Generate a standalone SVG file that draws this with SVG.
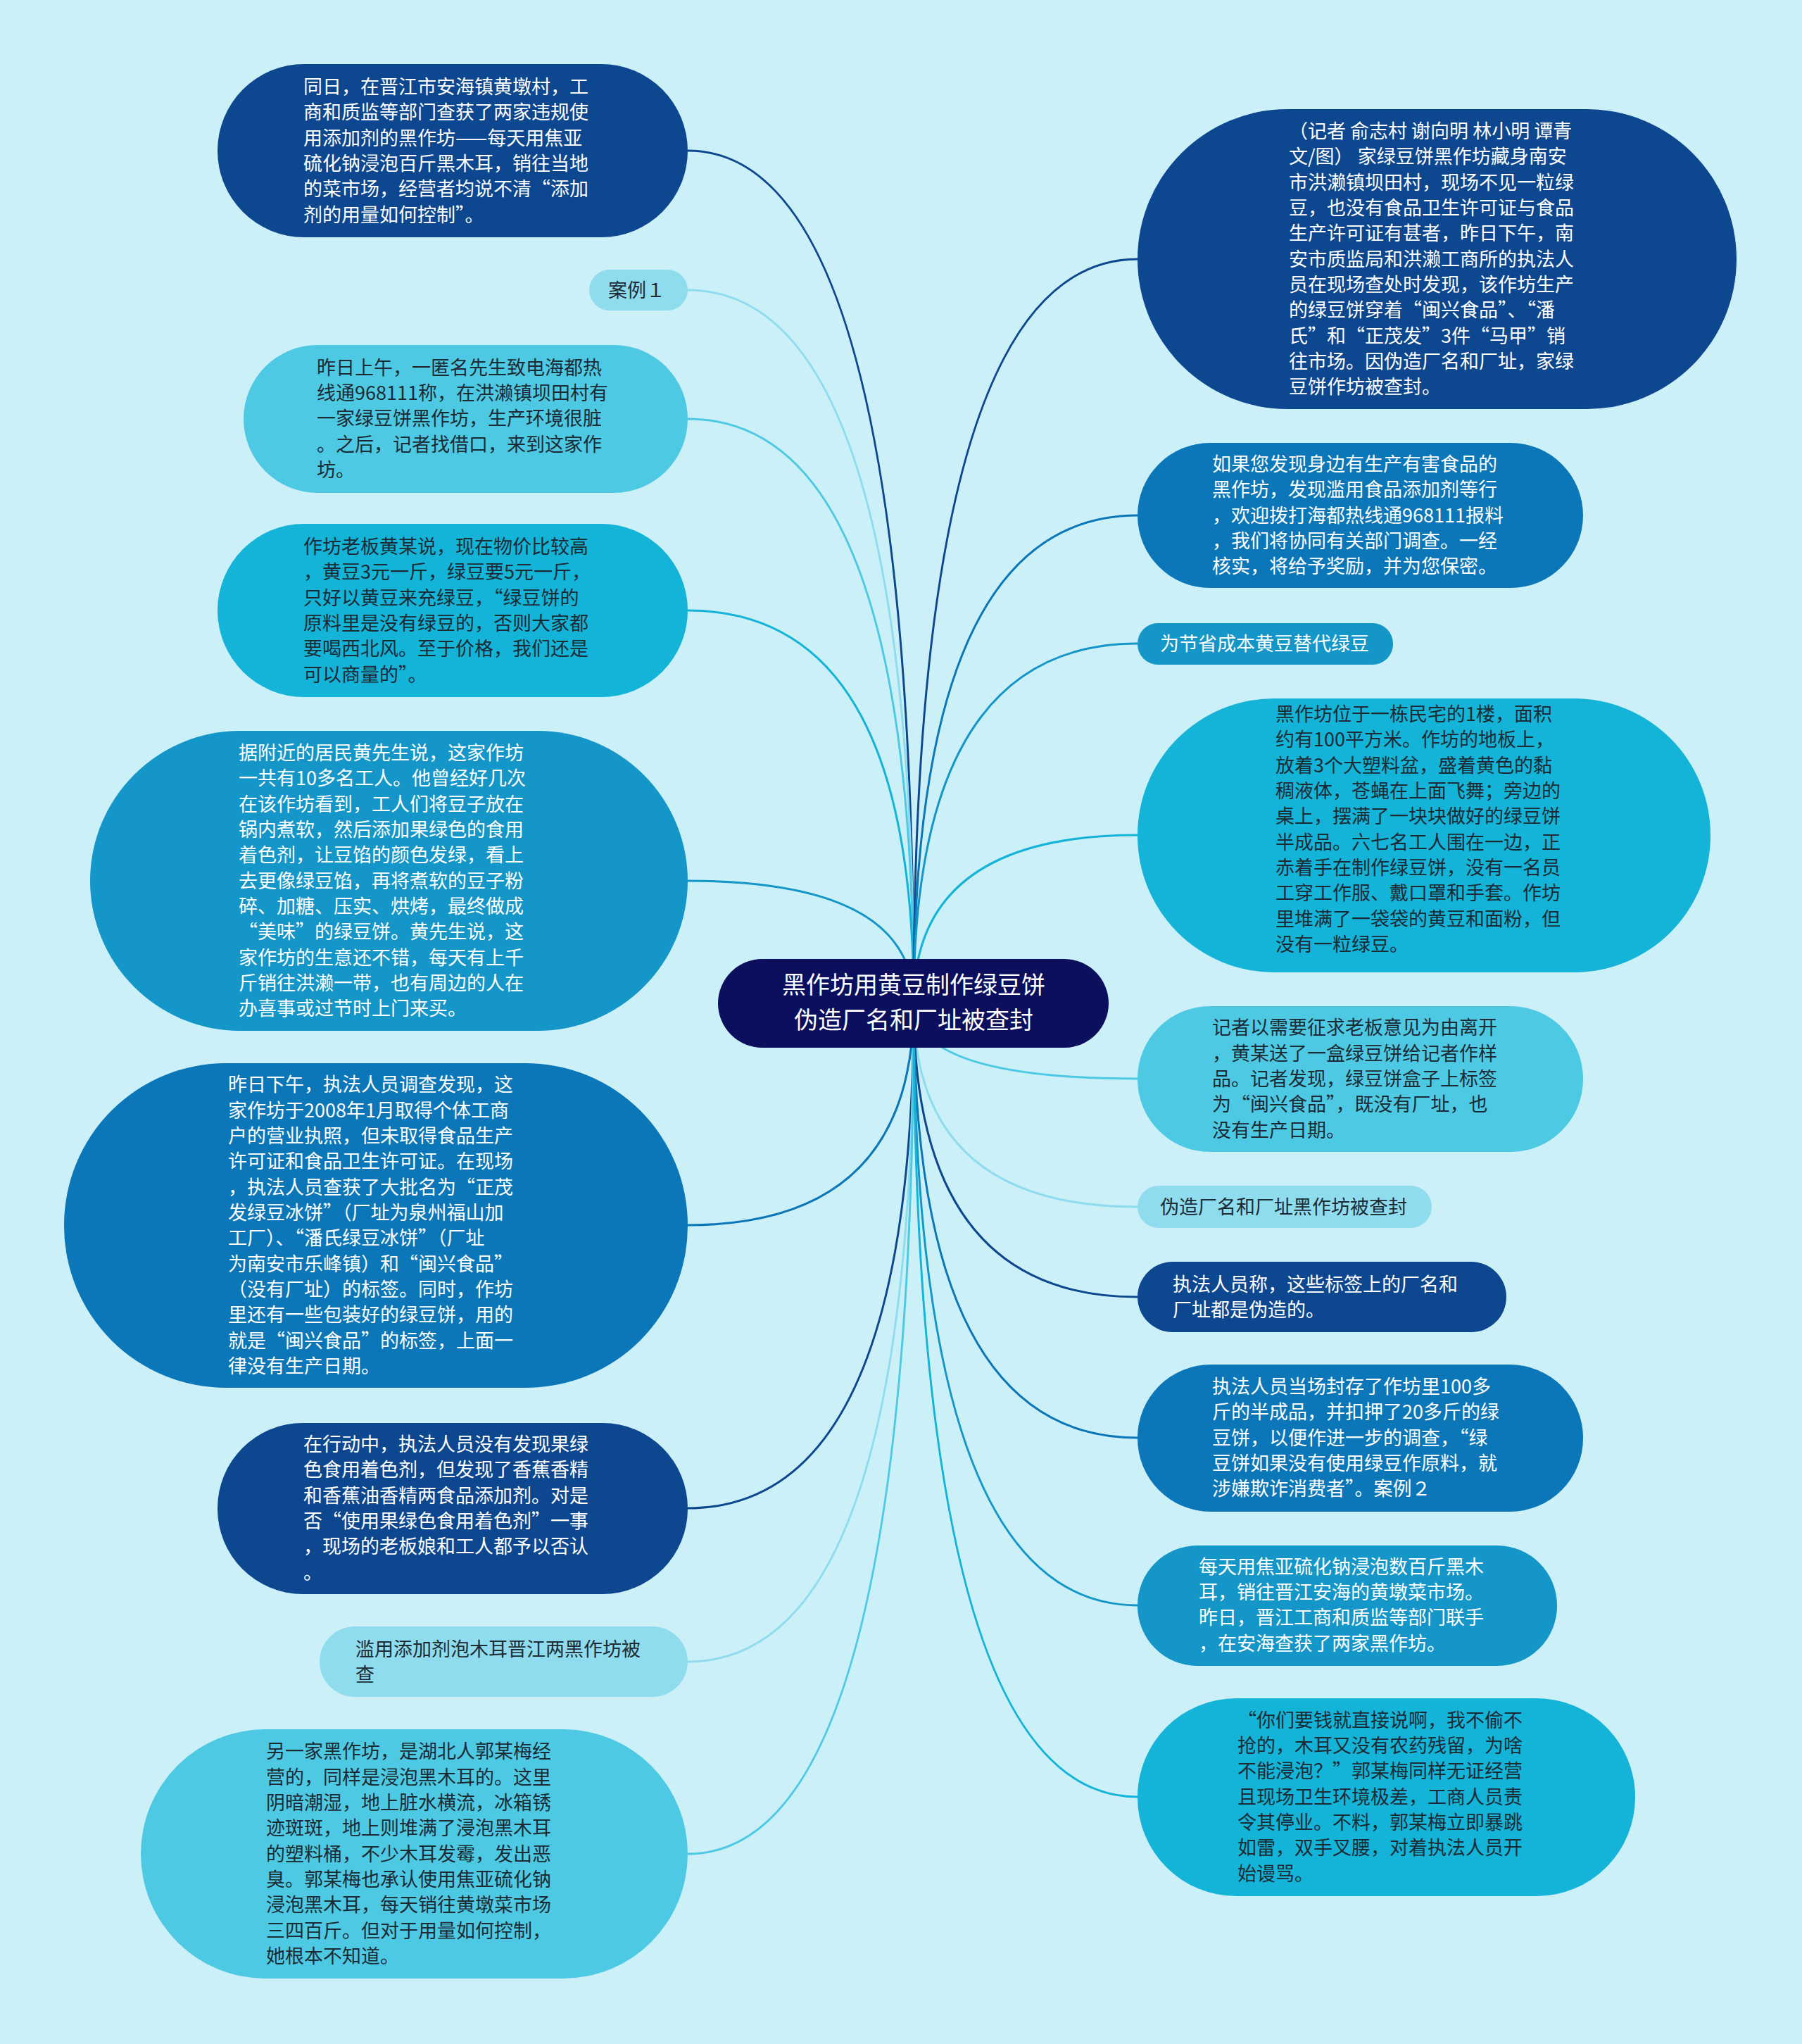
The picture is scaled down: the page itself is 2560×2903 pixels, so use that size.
<svg xmlns="http://www.w3.org/2000/svg" width="2560" height="2903" viewBox="0 0 2560 2903">
<style>
text{font-family:"Noto Sans CJK SC","Noto Sans",sans-serif;font-size:27px}
.w{fill:#ffffff}
.d{fill:#1c2b33}
.c{fill:none;stroke-width:3}
.f1{fill:#0d478f}.s1{stroke:#0d478f}
.f2{fill:#0b77b8}.s2{stroke:#0b77b8}
.f3{fill:#1496c8}.s3{stroke:#1496c8}
.f4{fill:#14b3d8}.s4{stroke:#14b3d8}
.f5{fill:#4ec9e3}.s5{stroke:#4ec9e3}
.f6{fill:#8edcee}.s6{stroke:#8edcee}
.t{font-size:34px}
</style>
<rect width="2560" height="2903" fill="#ccf0f8"/>
<g id="connectors">
<path class="c s1" d="M1298,1425 Q1298,214 977,214"/>
<path class="c s6" d="M1298,1425 Q1298,412 977,412"/>
<path class="c s5" d="M1298,1425 Q1298,595 977,595"/>
<path class="c s4" d="M1298,1425 Q1298,867 977,867"/>
<path class="c s3" d="M1298,1425 Q1298,1251 977,1251"/>
<path class="c s2" d="M1298,1425 Q1298,1740 977,1740"/>
<path class="c s1" d="M1298,1425 Q1298,2142 977,2142"/>
<path class="c s6" d="M1298,1425 Q1298,2360 977,2360"/>
<path class="c s5" d="M1298,1425 Q1298,2633 977,2633"/>
<path class="c s1" d="M1298,1425 Q1298,368 1616,368"/>
<path class="c s2" d="M1298,1425 Q1298,732 1616,732"/>
<path class="c s3" d="M1298,1425 Q1298,914 1616,914"/>
<path class="c s4" d="M1298,1425 Q1298,1186 1616,1186"/>
<path class="c s5" d="M1298,1425 Q1298,1532 1616,1532"/>
<path class="c s6" d="M1298,1425 Q1298,1714 1616,1714"/>
<path class="c s1" d="M1298,1425 Q1298,1842 1616,1842"/>
<path class="c s2" d="M1298,1425 Q1298,2042 1616,2042"/>
<path class="c s3" d="M1298,1425 Q1298,2280 1616,2280"/>
<path class="c s4" d="M1298,1425 Q1298,2552 1616,2552"/>
</g>
<g id="center">
<rect x="1020" y="1362" width="555" height="126" rx="63" fill="#0b0f5e"/>
<text class="w t" x="1298" y="1411" text-anchor="middle">黑作坊用黄豆制作绿豆饼</text>
<text class="w t" x="1298" y="1461" text-anchor="middle">伪造厂名和厂址被查封</text>
</g>
<g id="L1">
<rect class="f1" x="309" y="91" width="668" height="246" rx="123"/>
<text class="w"><tspan x="431" y="133">同日，在晋江市安海镇黄墩村，工</tspan><tspan x="431" y="169">商和质监等部门查获了两家违规使</tspan><tspan x="431" y="206">用添加剂的黑作坊——每天用焦亚</tspan><tspan x="431" y="242">硫化钠浸泡百斤黑木耳，销往当地</tspan><tspan x="431" y="278">的菜市场，经营者均说不清“添加</tspan><tspan x="431" y="315">剂的用量如何控制”。</tspan></text>
</g>
<g id="L2">
<rect class="f6" x="837" y="383" width="140" height="58" rx="29"/>
<text class="d" x="864" y="422">案例１</text>
</g>
<g id="L3">
<rect class="f5" x="346" y="490" width="631" height="210" rx="105"/>
<text class="d"><tspan x="450" y="532">昨日上午，一匿名先生致电海都热</tspan><tspan x="450" y="568">线通968111称，在洪濑镇坝田村有</tspan><tspan x="450" y="604">一家绿豆饼黑作坊，生产环境很脏</tspan><tspan x="450" y="641">。之后，记者找借口，来到这家作</tspan><tspan x="450" y="677">坊。</tspan></text>
</g>
<g id="L4">
<rect class="f4" x="309" y="744" width="668" height="246" rx="123"/>
<text class="d"><tspan x="431" y="786">作坊老板黄某说，现在物价比较高</tspan><tspan x="431" y="822">，黄豆3元一斤，绿豆要5元一斤，</tspan><tspan x="431" y="859">只好以黄豆来充绿豆，“绿豆饼的</tspan><tspan x="431" y="895">原料里是没有绿豆的，否则大家都</tspan><tspan x="431" y="931">要喝西北风。至于价格，我们还是</tspan><tspan x="431" y="968">可以商量的”。</tspan></text>
</g>
<g id="L5">
<rect class="f3" x="128" y="1038" width="849" height="426" rx="213"/>
<text class="w"><tspan x="339" y="1079">据附近的居民黄先生说，这家作坊</tspan><tspan x="339" y="1115">一共有10多名工人。他曾经好几次</tspan><tspan x="339" y="1152">在该作坊看到，工人们将豆子放在</tspan><tspan x="339" y="1188">锅内煮软，然后添加果绿色的食用</tspan><tspan x="339" y="1224">着色剂，让豆馅的颜色发绿，看上</tspan><tspan x="339" y="1261">去更像绿豆馅，再将煮软的豆子粉</tspan><tspan x="339" y="1297">碎、加糖、压实、烘烤，最终做成</tspan><tspan x="339" y="1333">“美味”的绿豆饼。黄先生说，这</tspan><tspan x="339" y="1370">家作坊的生意还不错，每天有上千</tspan><tspan x="339" y="1406">斤销往洪濑一带，也有周边的人在</tspan><tspan x="339" y="1442">办喜事或过节时上门来买。</tspan></text>
</g>
<g id="L6">
<rect class="f2" x="91" y="1510" width="886" height="461" rx="230"/>
<text class="w"><tspan x="324" y="1550">昨日下午，执法人员调查发现，这</tspan><tspan x="324" y="1587">家作坊于2008年1月取得个体工商</tspan><tspan x="324" y="1623">户的营业执照，但未取得食品生产</tspan><tspan x="324" y="1659">许可证和食品卫生许可证。在现场</tspan><tspan x="324" y="1696">，执法人员查获了大批名为“正茂</tspan><tspan x="324" y="1732">发绿豆冰饼”（厂址为泉州福山加</tspan><tspan x="324" y="1768">工厂）、“潘氏绿豆冰饼”（厂址</tspan><tspan x="324" y="1805">为南安市乐峰镇）和“闽兴食品”</tspan><tspan x="324" y="1841">（没有厂址）的标签。同时，作坊</tspan><tspan x="324" y="1877">里还有一些包装好的绿豆饼，用的</tspan><tspan x="324" y="1914">就是“闽兴食品”的标签，上面一</tspan><tspan x="324" y="1950">律没有生产日期。</tspan></text>
</g>
<g id="L7">
<rect class="f1" x="309" y="2021" width="668" height="243" rx="121"/>
<text class="w"><tspan x="431" y="2061">在行动中，执法人员没有发现果绿</tspan><tspan x="431" y="2097">色食用着色剂，但发现了香蕉香精</tspan><tspan x="431" y="2134">和香蕉油香精两食品添加剂。对是</tspan><tspan x="431" y="2170">否“使用果绿色食用着色剂”一事</tspan><tspan x="431" y="2206">，现场的老板娘和工人都予以否认</tspan><tspan x="431" y="2243">。</tspan></text>
</g>
<g id="L8">
<rect class="f6" x="454" y="2310" width="523" height="100" rx="50"/>
<text class="d"><tspan x="505" y="2352">滥用添加剂泡木耳晋江两黑作坊被</tspan><tspan x="505" y="2388">查</tspan></text>
</g>
<g id="L9">
<rect class="f5" x="200" y="2456" width="777" height="354" rx="177"/>
<text class="d"><tspan x="378" y="2497">另一家黑作坊，是湖北人郭某梅经</tspan><tspan x="378" y="2534">营的，同样是浸泡黑木耳的。这里</tspan><tspan x="378" y="2570">阴暗潮湿，地上脏水横流，冰箱锈</tspan><tspan x="378" y="2606">迹斑斑，地上则堆满了浸泡黑木耳</tspan><tspan x="378" y="2643">的塑料桶，不少木耳发霉，发出恶</tspan><tspan x="378" y="2679">臭。郭某梅也承认使用焦亚硫化钠</tspan><tspan x="378" y="2715">浸泡黑木耳，每天销往黄墩菜市场</tspan><tspan x="378" y="2752">三四百斤。但对于用量如何控制，</tspan><tspan x="378" y="2788">她根本不知道。</tspan></text>
</g>
<g id="R1">
<rect class="f1" x="1616" y="155" width="851" height="426" rx="213"/>
<text class="w"><tspan x="1831" y="196">（记者 俞志村 谢向明 林小明 谭青</tspan><tspan x="1831" y="232">文/图） 家绿豆饼黑作坊藏身南安</tspan><tspan x="1831" y="269">市洪濑镇坝田村，现场不见一粒绿</tspan><tspan x="1831" y="305">豆，也没有食品卫生许可证与食品</tspan><tspan x="1831" y="341">生产许可证有甚者，昨日下午，南</tspan><tspan x="1831" y="378">安市质监局和洪濑工商所的执法人</tspan><tspan x="1831" y="414">员在现场查处时发现，该作坊生产</tspan><tspan x="1831" y="450">的绿豆饼穿着“闽兴食品”、“潘</tspan><tspan x="1831" y="487">氏”和“正茂发”3件“马甲”销</tspan><tspan x="1831" y="523">往市场。因伪造厂名和厂址，家绿</tspan><tspan x="1831" y="559">豆饼作坊被查封。</tspan></text>
</g>
<g id="R2">
<rect class="f2" x="1616" y="629" width="633" height="206" rx="103"/>
<text class="w"><tspan x="1722" y="669">如果您发现身边有生产有害食品的</tspan><tspan x="1722" y="705">黑作坊，发现滥用食品添加剂等行</tspan><tspan x="1722" y="742">，欢迎拨打海都热线通968111报料</tspan><tspan x="1722" y="778">，我们将协同有关部门调查。一经</tspan><tspan x="1722" y="814">核实，将给予奖励，并为您保密。</tspan></text>
</g>
<g id="R3">
<rect class="f3" x="1616" y="885" width="363" height="59" rx="29"/>
<text class="w" x="1648" y="924">为节省成本黄豆替代绿豆</text>
</g>
<g id="R4">
<rect class="f4" x="1616" y="992" width="814" height="389" rx="194"/>
<text class="d"><tspan x="1812" y="1024">黑作坊位于一栋民宅的1楼，面积</tspan><tspan x="1812" y="1060">约有100平方米。作坊的地板上，</tspan><tspan x="1812" y="1097">放着3个大塑料盆，盛着黄色的黏</tspan><tspan x="1812" y="1133">稠液体，苍蝇在上面飞舞；旁边的</tspan><tspan x="1812" y="1169">桌上，摆满了一块块做好的绿豆饼</tspan><tspan x="1812" y="1206">半成品。六七名工人围在一边，正</tspan><tspan x="1812" y="1242">赤着手在制作绿豆饼，没有一名员</tspan><tspan x="1812" y="1278">工穿工作服、戴口罩和手套。作坊</tspan><tspan x="1812" y="1315">里堆满了一袋袋的黄豆和面粉，但</tspan><tspan x="1812" y="1351">没有一粒绿豆。</tspan></text>
</g>
<g id="R5">
<rect class="f5" x="1616" y="1429" width="633" height="207" rx="103"/>
<text class="d"><tspan x="1722" y="1469">记者以需要征求老板意见为由离开</tspan><tspan x="1722" y="1506">，黄某送了一盒绿豆饼给记者作样</tspan><tspan x="1722" y="1542">品。记者发现，绿豆饼盒子上标签</tspan><tspan x="1722" y="1578">为“闽兴食品”，既没有厂址，也</tspan><tspan x="1722" y="1615">没有生产日期。</tspan></text>
</g>
<g id="R6">
<rect class="f6" x="1616" y="1684" width="418" height="60" rx="30"/>
<text class="d" x="1648" y="1724">伪造厂名和厂址黑作坊被查封</text>
</g>
<g id="R7">
<rect class="f1" x="1616" y="1792" width="524" height="100" rx="50"/>
<text class="w"><tspan x="1666" y="1834">执法人员称，这些标签上的厂名和</tspan><tspan x="1666" y="1870">厂址都是伪造的。</tspan></text>
</g>
<g id="R8">
<rect class="f2" x="1616" y="1938" width="633" height="209" rx="104"/>
<text class="w"><tspan x="1722" y="1979">执法人员当场封存了作坊里100多</tspan><tspan x="1722" y="2015">斤的半成品，并扣押了20多斤的绿</tspan><tspan x="1722" y="2052">豆饼，以便作进一步的调查，“绿</tspan><tspan x="1722" y="2088">豆饼如果没有使用绿豆作原料，就</tspan><tspan x="1722" y="2124">涉嫌欺诈消费者”。案例２</tspan></text>
</g>
<g id="R9">
<rect class="f3" x="1616" y="2195" width="596" height="171" rx="85"/>
<text class="w"><tspan x="1703" y="2235">每天用焦亚硫化钠浸泡数百斤黑木</tspan><tspan x="1703" y="2271">耳，销往晋江安海的黄墩菜市场。</tspan><tspan x="1703" y="2307">昨日，晋江工商和质监等部门联手</tspan><tspan x="1703" y="2344">，在安海查获了两家黑作坊。</tspan></text>
</g>
<g id="R10">
<rect class="f4" x="1616" y="2412" width="707" height="281" rx="140"/>
<text class="d"><tspan x="1758" y="2453">“你们要钱就直接说啊，我不偷不</tspan><tspan x="1758" y="2489">抢的，木耳又没有农药残留，为啥</tspan><tspan x="1758" y="2525">不能浸泡？”郭某梅同样无证经营</tspan><tspan x="1758" y="2562">且现场卫生环境极差，工商人员责</tspan><tspan x="1758" y="2598">令其停业。不料，郭某梅立即暴跳</tspan><tspan x="1758" y="2634">如雷，双手叉腰，对着执法人员开</tspan><tspan x="1758" y="2671">始谩骂。</tspan></text>
</g>
</svg>
